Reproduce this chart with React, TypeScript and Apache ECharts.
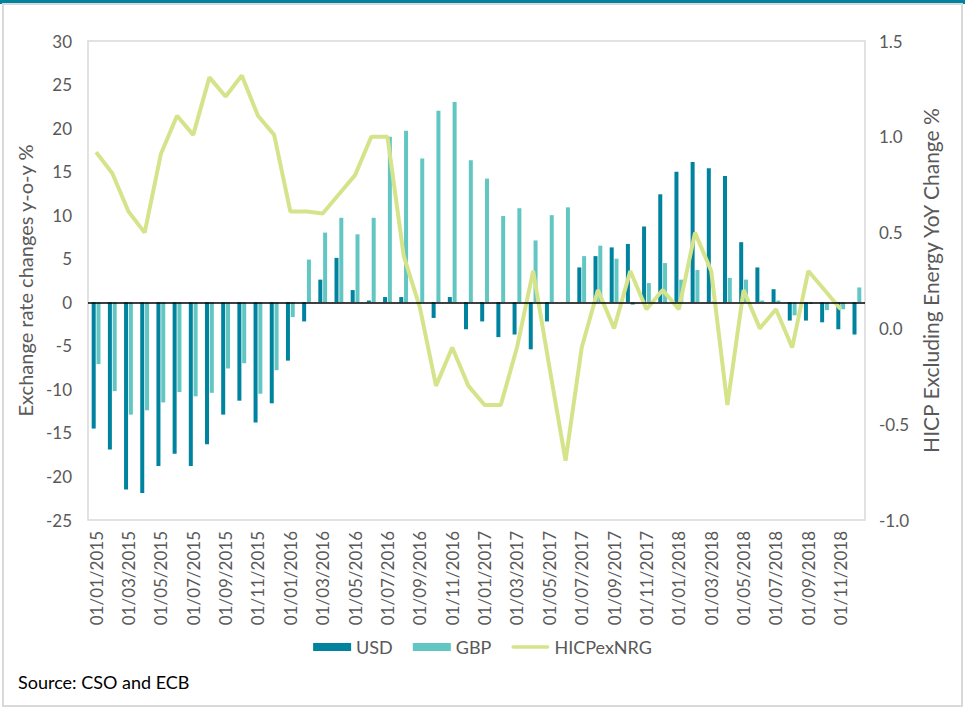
import React, { useEffect, useRef } from "react";
import * as echarts from "echarts";

const years = [2015, 2016, 2017, 2018];
const months = ["01", "02", "03", "04", "05", "06", "07", "08", "09", "10", "11", "12"];
const categories: string[] = [];
years.forEach((y) => months.forEach((m) => categories.push(`01/${m}/${y}`)));

const usd = [
  -14.5, -16.9, -21.5, -21.9, -18.8, -17.4, -18.8, -16.3, -12.9, -11.3, -13.8, -11.6,
  -6.7, -2.2, 2.6, 5.1, 1.4, 0.2, 0.6, 0.6, 0, -1.8, 0.6, -3.1,
  -2.2, -4.0, -3.7, -5.4, -2.2, 0, 4.0, 5.3, 6.3, 6.7, 8.7, 12.4,
  15.0, 16.1, 15.4, 14.5, 6.9, 4.0, 1.5, -2.1, -2.1, -2.3, -3.1, -3.7,
];
const gbp = [
  -7.1, -10.2, -12.9, -12.4, -11.5, -10.3, -10.8, -10.4, -7.6, -7.0, -10.5, -7.8,
  -1.7, 4.9, 8.0, 9.7, 7.8, 9.7, 19.0, 19.7, 16.5, 22.0, 23.0, 16.3,
  14.2, 9.9, 10.8, 7.1, 10.0, 10.9, 5.3, 6.5, 5.0, -0.3, 2.2, 4.5,
  2.6, 3.7, 0.1, 2.8, 2.6, 0.2, 0.2, -1.5, -0.2, -0.9, -0.8, 1.7,
];
const hicp = [
  0.92, 0.81, 0.61, 0.5, 0.91, 1.11, 1.01, 1.31, 1.21, 1.32, 1.11, 1.01,
  0.61, 0.61, 0.6, 0.7, 0.8, 1.0, 1.0, 0.38, 0.11, -0.3, -0.1, -0.3,
  -0.4, -0.4, -0.1, 0.3, -0.2, -0.69, -0.1, 0.2, 0.0, 0.3, 0.1, 0.2,
  0.1, 0.5, 0.3, -0.4, 0.2, 0.0, 0.1, -0.1, 0.3, 0.2, 0.1, null,
];

const leftTicks = [-25, 30];
const rightTicks = [-1.0, 1.5];

const FONT = "Lato";
const GRAY = "#595959";

export default function App() {
  const ref = useRef<HTMLDivElement>(null);
  useEffect(() => {
    if (!ref.current) return;
    const chart = echarts.init(ref.current, null, { renderer: "svg" });
    chart.setOption({
      animation: false,
      textStyle: { fontFamily: FONT },
      graphic: [
        { type: "rect", shape: { x: 0, y: 0, width: 965, height: 4 }, style: { fill: "#00839E" }, silent: true },
        {
          type: "rect",
          shape: { x: 3, y: 4, width: 959, height: 702 },
          style: { fill: "none", stroke: "#d9d9d9", lineWidth: 2 },
          silent: true,
        },
        {
          type: "text",
          left: 18,
          top: 673,
          style: { text: "Source: CSO and ECB", fill: "#000", font: `18px ${FONT}` },
        },
      ],
      grid: {
        left: 88,
        right: 100,
        top: 41,
        bottom: 189,
        show: true,
        borderColor: "#d9d9d9",
        borderWidth: 1.5,
        backgroundColor: "transparent",
      },
      legend: {
        bottom: 48,
        left: "center",
        itemWidth: 38,
        itemHeight: 8,
        itemGap: 20,
        textStyle: { color: GRAY, fontSize: 18, fontFamily: FONT },
        data: [
          { name: "USD", icon: "rect" },
          { name: "GBP", icon: "rect" },
          { name: "HICPexNRG", icon: "path://M2,0 H40 A2,2 0 0 1 40,4 H2 A2,2 0 0 1 2,0 Z" },
        ],
      },
      xAxis: {
        type: "category",
        data: categories,
        position: "bottom",
        axisLine: { show: false, onZero: false },
        axisTick: { show: false },
        axisLabel: {
          interval: 1,
          rotate: 90,
          color: GRAY,
          fontSize: 17,
          fontFamily: FONT,
          margin: 11,
        },
        splitLine: { show: false },
      },
      yAxis: [
        {
          type: "value",
          min: leftTicks[0],
          max: leftTicks[1],
          interval: 5,
          position: "left",
          name: "Exchange rate changes y-o-y %",
          nameLocation: "middle",
          nameGap: 49,
          nameTextStyle: { color: GRAY, fontSize: 20, fontFamily: FONT },
          axisLine: { show: false },
          axisTick: { show: false },
          splitLine: { show: false },
          axisLabel: { color: GRAY, fontSize: 17, fontFamily: FONT, margin: 16 },
        },
        {
          type: "value",
          min: rightTicks[0],
          max: rightTicks[1],
          interval: 0.5,
          position: "right",
          name: "HICP Excluding Energy YoY Change %",
          nameLocation: "middle",
          nameRotate: 90,
          nameGap: 52,
          nameTextStyle: { color: GRAY, fontSize: 21, fontFamily: FONT },
          axisLine: { show: false },
          axisTick: { show: false },
          splitLine: { show: false },
          axisLabel: {
            color: GRAY,
            fontSize: 17,
            fontFamily: FONT,
            margin: 14,
            formatter: (v: number) => v.toFixed(1),
          },
        },
      ],
      series: [
        {
          name: "USD",
          type: "bar",
          yAxisIndex: 0,
          data: usd,
          barWidth: 4,
          barGap: "20%",
          itemStyle: { color: "#00839E" },
          markLine: {
            silent: true,
            symbol: "none",
            label: { show: false },
            lineStyle: { color: "#000", width: 1.5, type: "solid" },
            data: [{ yAxis: 0 }],
          },
        },
        {
          name: "GBP",
          type: "bar",
          yAxisIndex: 0,
          data: gbp,
          barWidth: 4,
          itemStyle: { color: "#62C6C3" },
        },
        {
          name: "HICPexNRG",
          type: "line",
          yAxisIndex: 1,
          data: hicp,
          symbol: "none",
          lineStyle: { color: "#D5E48A", width: 4 },
          itemStyle: { color: "#D5E48A" },
        },
      ],
    });
    return () => chart.dispose();
  }, []);
  return (
    <div
      ref={ref}
      style={{ position: "absolute", left: 0, top: 0, width: 965, height: 709, background: "#fff" }}
    />
  );
}
